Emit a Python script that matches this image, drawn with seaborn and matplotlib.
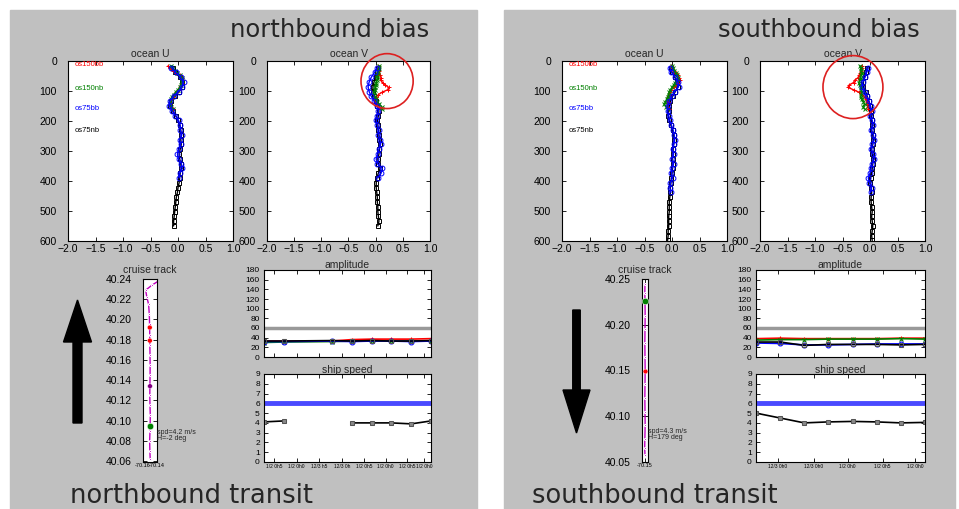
import matplotlib
matplotlib.use('Agg')
import matplotlib.pyplot as plt
from matplotlib import font_manager
from matplotlib.patches import Rectangle, Ellipse, FancyArrow
import pandas as pd
import seaborn as sns

# ---------------- data ----------------
instruments = ['os150bb', 'os150nb', 'os75bb', 'os75nb']
inst_colors = {'os150bb': '#ff0000', 'os150nb': '#008000', 'os75bb': '#0000ff', 'os75nb': '#000000'}
inst_markers = {'os150bb': '+', 'os150nb': 'x', 'os75bb': 'o', 'os75nb': 's'}

depth_150 = [16, 24, 32, 40, 48, 56, 64, 72, 80, 88, 96, 104, 112, 120, 128, 136, 144, 152, 160]
depth_75 = [22, 38, 54, 70, 86, 102, 118, 134, 150, 166, 182, 198, 214, 230, 246, 262, 278,
            294, 310, 326, 342, 358, 374, 390, 406, 422, 438, 454, 470, 486, 502, 518, 534,
            550, 566, 582, 598]

# northbound profiles
nb_u = {
    'os150bb': [-0.18, -0.15, -0.10, -0.04, 0.03, 0.07, 0.09, 0.08, 0.06, 0.04, 0.01, -0.03, -0.07,
                -0.10, -0.13, -0.14, -0.15, -0.12, -0.10],
    'os150nb': [-0.12, -0.10, -0.06, -0.01, 0.04, 0.07, 0.08, 0.07, 0.05, 0.03, 0.00, -0.04, -0.08,
                -0.11, -0.13, -0.15, -0.14, -0.12, -0.09],
    'os75bb': [-0.12, -0.04, 0.05, 0.10, 0.08, 0.01, -0.08, -0.15, -0.16, -0.11, -0.05, 0.01, 0.04,
               0.04, 0.07, 0.03, 0.05, 0.02, -0.01, 0.01, 0.06, 0.08, 0.03, 0.02],
    'os75nb': [-0.10, -0.05, 0.03, 0.08, 0.07, 0.02, -0.06, -0.12, -0.14, -0.10, -0.04, 0.00, 0.03,
               0.05, 0.06, 0.05, 0.06, 0.04, 0.02, 0.03, 0.05, 0.06, 0.04, 0.03, 0.02, 0.00, -0.01,
               -0.03, -0.04, -0.05, -0.06, -0.07, -0.08, -0.08],
}
nb_v = {
    'os150bb': [0.05, 0.04, 0.06, 0.05, 0.08, 0.10, 0.09, 0.13, 0.18, 0.24, 0.22, 0.12, 0.05, 0.01,
                -0.02, -0.01, 0.02, 0.06, 0.09],
    'os150nb': [0.07, 0.06, 0.05, 0.04, 0.03, 0.03, 0.02, 0.01, 0.00, -0.01, -0.02, -0.03, -0.03,
                -0.02, 0.00, 0.03, 0.07, 0.11, 0.12],
    'os75bb': [0.03, -0.02, -0.08, -0.12, -0.14, -0.12, -0.08, -0.03, 0.02, 0.05, 0.03, 0.01, 0.03,
               0.06, 0.05, 0.08, 0.09, 0.06, 0.04, 0.01, 0.03, 0.12, 0.10, 0.04],
    'os75nb': [0.05, 0.03, 0.00, -0.03, -0.05, -0.05, -0.03, 0.00, 0.03, 0.06, 0.05, 0.03, 0.04,
               0.05, 0.06, 0.07, 0.08, 0.07, 0.06, 0.04, 0.05, 0.08, 0.05, 0.02, 0.01, 0.01, 0.02,
               0.03, 0.03, 0.04, 0.04, 0.05, 0.06, 0.04],
}
# southbound profiles
sb_u = {
    'os150bb': [-0.02, 0.00, 0.03, 0.07, 0.10, 0.13, 0.14, 0.11, 0.07, 0.03, -0.01, -0.04, -0.06,
                -0.07, -0.07, -0.08, -0.08, -0.07, -0.06],
    'os150nb': [0.00, 0.01, 0.04, 0.07, 0.09, 0.10, 0.09, 0.06, 0.03, 0.00, -0.03, -0.05, -0.06,
                -0.08, -0.10, -0.12, -0.14, -0.11, -0.08],
    'os75bb': [-0.04, -0.01, 0.06, 0.11, 0.12, 0.05, 0.00, -0.05, -0.07, -0.08, -0.06, -0.04, -0.01,
               0.02, 0.04, 0.05, 0.03, 0.01, 0.03, 0.00, 0.03, 0.00, -0.01, 0.01, -0.03, -0.04, -0.02],
    'os75nb': [-0.02, 0.00, 0.05, 0.09, 0.10, 0.06, 0.01, -0.03, -0.05, -0.06, -0.07, -0.05, -0.02,
               0.01, 0.03, 0.04, 0.03, 0.02, 0.02, 0.01, 0.02, 0.01, 0.00, -0.01, -0.02, -0.03,
               -0.03, -0.04, -0.05, -0.05, -0.05, -0.06, -0.06, -0.06, -0.07, -0.07, -0.08],
}
sb_v = {
    'os150bb': [-0.15, -0.14, -0.16, -0.18, -0.20, -0.22, -0.28, -0.30, -0.38, -0.40, -0.30, -0.20,
                -0.14, -0.10, -0.08, -0.06, -0.05, -0.04, -0.03],
    'os150nb': [-0.18, -0.17, -0.16, -0.15, -0.16, -0.17, -0.19, -0.20, -0.19, -0.17, -0.16, -0.15,
                -0.16, -0.17, -0.15, -0.12, -0.10, -0.13, -0.10],
    'os75bb': [-0.03, -0.06, -0.09, -0.13, -0.14, -0.10, -0.06, -0.02, 0.01, 0.03, 0.00, 0.04, 0.06,
               0.02, 0.06, 0.08, 0.04, 0.02, 0.06, 0.08, 0.04, 0.02, 0.00, -0.03, -0.01, 0.03, 0.01],
    'os75nb': [-0.05, -0.07, -0.10, -0.12, -0.12, -0.08, -0.05, -0.02, 0.00, 0.02, 0.02, 0.03, 0.04,
               0.03, 0.05, 0.06, 0.05, 0.03, 0.04, 0.06, 0.05, 0.04, 0.03, 0.01, 0.00, 0.02, 0.03,
               0.02, 0.02, 0.03, 0.04, 0.03, 0.04, 0.05, 0.04, 0.03, 0.04],
}

# cruise tracks (lon, lat)
nb_track_lat = [40.062, 40.070, 40.080, 40.090, 40.095, 40.105, 40.115, 40.125, 40.135, 40.145,
                40.155, 40.165, 40.175, 40.185, 40.195, 40.205, 40.215, 40.222, 40.229, 40.234, 40.238]
nb_track_lon = [-70.1497, -70.1502, -70.1505, -70.1500, -70.1498, -70.1496, -70.1500, -70.1503,
                -70.1501, -70.1499, -70.1498, -70.1500, -70.1502, -70.1504, -70.1506, -70.1510,
                -70.1520, -70.1545, -70.1562, -70.1470, -70.1380]
nb_ens_lat = [40.192, 40.179, 40.134]
nb_ens_lon = [-70.1503, -70.1502, -70.1500]
nb_ens_col = ['#ff0000', '#ff0000', '#800080']
nb_now = (-70.1499, 40.095)

sb_track_lat = [40.245, 40.235, 40.225, 40.210, 40.195, 40.180, 40.165, 40.150, 40.135, 40.120,
                40.105, 40.090, 40.075, 40.065, 40.058]
sb_track_lon = [-70.1500, -70.1501, -70.1500, -70.1499, -70.1500, -70.1501, -70.1500, -70.1499,
                -70.1500, -70.1501, -70.1500, -70.1499, -70.1501, -70.1502, -70.1500]
sb_ens_lat = [40.150]
sb_ens_lon = [-70.1500]
sb_ens_col = ['#ff0000']
sb_now = (-70.1500, 40.226)

# amplitude and ship speed time series (minutes)
nb_time = [0, 7, 24, 31, 38, 45, 52, 59]
nb_amp = {
    'os150bb': [33, 33, 33, 36, 37, 37, 37, 38],
    'os150nb': [30, 31, 32, 33, 33, 33, 33, 33],
    'os75bb': [32, 32, 33, 32, 33, 33, 32, 33],
    'os75nb': [33, 33, 34, 33, 34, 33, 33, 34],
}
nb_spd_time = [0, 7, 31, 38, 45, 52, 59]
nb_spd_seg = [0, 0, 1, 1, 1, 1, 1]
nb_spd = [4.1, 4.2, 4.0, 4.0, 4.0, 3.9, 4.2]
nb_tick_t = [3.5, 11.5, 19.5, 27.5, 35.5, 43, 50.5, 56.5]
nb_tick_lab = ['1/2 0h5', '1/2 0h0', '12/3 h5', '12/3 0h', '1/2 0h5', '1/2 0h0', '1/2 0h5', '1/2 0h0']

sb_time = [0, 10, 20, 30, 40, 50, 60, 70]
sb_amp = {
    'os150bb': [38, 39, 38, 38, 38, 38, 39, 39],
    'os150nb': [35, 36, 36, 37, 37, 37, 38, 37],
    'os75bb': [29, 28, 25, 25, 26, 27, 27, 27],
    'os75nb': [31, 31, 24, 26, 26, 26, 25, 26],
}
sb_spd_time = [0, 10, 20, 30, 40, 50, 60, 70]
sb_spd_seg = [0, 0, 0, 0, 0, 0, 0, 0]
sb_spd = [5.0, 4.5, 4.0, 4.1, 4.15, 4.1, 4.0, 4.05]
sb_tick_t = [9, 24, 38, 52.5, 66]
sb_tick_lab = ['12/3 0h0', '12/3 0h0', '1/2 0h0', '1/2 0h5', '1/2 0h0']

amp_ref = 60
spd_ref = 6

# ---------------- style ----------------
sns.set_theme(style='ticks')
names = {f.name for f in font_manager.fontManager.ttflist}
small_font = 'Liberation Sans Narrow' if 'Liberation Sans Narrow' in names else 'Liberation Sans'
plt.rcParams['font.family'] = [small_font, 'DejaVu Sans']
plt.rcParams['axes.unicode_minus'] = True

W, H = 959, 509
fig = plt.figure(figsize=(W / 100, H / 100), dpi=100)
fig.patch.set_facecolor('white')


def box(l, t, r, b):
    return [l / W, 1 - b / H, (r - l) / W, (b - t) / H]


def style(ax, size=7.5, ypad=8, xpad=2):
    ax.set_facecolor('white')
    ax.tick_params(labelsize=size, length=3, width=0.6, direction='in', top=True, right=True,
                   colors='black')
    ax.tick_params(axis='y', pad=ypad)
    ax.tick_params(axis='x', pad=xpad)
    for s in ax.spines.values():
        s.set_visible(True)
        s.set_linewidth(0.8)
        s.set_color('black')
    ax.set_xlabel('')
    ax.set_ylabel('')


# background slide
bg = fig.add_axes([0, 0, 1, 1], zorder=-5)
bg.set_xlim(0, W)
bg.set_ylim(H, 0)
bg.axis('off')
bg.add_patch(Rectangle((10, 10), 467, 499, color='#c0c0c0'))
bg.add_patch(Rectangle((504, 10), 451, 499, color='#c0c0c0'))
bg.add_patch(FancyArrow(77.5, 423, 0, -123, width=9, head_width=28, head_length=42,
                        length_includes_head=True, color='black'))
bg.add_patch(FancyArrow(576.5, 310, 0, 123, width=7.5, head_width=27, head_length=43,
                        length_includes_head=True, color='black'))
slide_txt = dict(family='DejaVu Sans', color='#262626', va='baseline', ha='left')
bg.text(230, 37, 'northbound bias', fontsize=17.5, **slide_txt)
bg.text(718, 37, 'southbound bias', fontsize=17.5, **slide_txt)
bg.text(70, 503, 'northbound transit', fontsize=18.5, **slide_txt)
bg.text(532, 503, 'southbound transit', fontsize=18.5, **slide_txt)


def profile(ax, vals, title, legend=False, circle=None):
    for name in ['os75nb', 'os150bb', 'os150nb', 'os75bb']:
        v = vals[name]
        d = depth_150 if name.startswith('os150') else depth_75[:len(v)]
        sns.lineplot(x=v, y=d, sort=False, estimator=None, color=inst_colors[name],
                     marker=inst_markers[name], markersize=3.5, markerfacecolor='none',
                     markeredgecolor=inst_colors[name], markeredgewidth=0.7, lw=1.0, ax=ax)
    ax.set_xlim(-2, 1)
    ax.set_ylim(600, 0)
    ax.set_xticks([-2, -1.5, -1, -0.5, 0, 0.5, 1])
    ax.set_xticklabels(['−2.0', '−1.5', '−1.0', '−0.5', '0.0', '0.5', '1.0'])
    ax.set_yticks([0, 100, 200, 300, 400, 500, 600])
    style(ax)
    ax.set_title(title, fontsize=7.5, pad=3)
    if legend:
        for name, dy in zip(instruments, [13, 90, 157, 233]):
            ax.text(-1.88, dy, name, color=inst_colors[name], fontsize=5.5, va='center')
    if circle is not None:
        ax.add_patch(Ellipse(circle[:2], circle[2], circle[3], fill=False, ec='#dd2020',
                             lw=1.2, clip_on=False, zorder=5))


def track(ax, lon, lat, ens_lon, ens_lat, ens_col, now, ylim, yticks, xlim, xticks, txt, txt_y):
    sns.lineplot(x=lon, y=lat, sort=False, estimator=None, color='#c000c0', marker='.',
                 markersize=3, lw=1.0, ax=ax)
    sns.scatterplot(x=ens_lon, y=ens_lat, c=ens_col, marker='o', s=12, ax=ax, zorder=3)
    sns.scatterplot(x=[now[0]], y=[now[1]], color='#008000', s=22, ax=ax, zorder=4)
    ax.set_ylim(*ylim)
    ax.set_xlim(*xlim)
    ax.set_yticks(yticks)
    ax.set_yticklabels(['%.2f' % t for t in yticks])
    ax.set_xticks(xticks)
    ax.set_xticklabels(['%.2f' % t for t in xticks])
    style(ax, ypad=8, xpad=1)
    ax.tick_params(axis='x', labelsize=4)
    ax.set_title('cruise track', fontsize=7.5, pad=4)
    ax.text(1.0, txt_y, txt, transform=ax.get_yaxis_transform(), fontsize=5, va='center',
            ha='left', linespacing=0.9)


def amplitude(ax, t, amp, ticks):
    for name in instruments:
        sns.lineplot(x=t, y=amp[name], estimator=None, color=inst_colors[name],
                     marker=inst_markers[name], markersize=3.5, markerfacecolor='none',
                     markeredgecolor='#555555' if name == 'os75nb' else inst_colors[name],
                     markeredgewidth=0.8, lw=1.2, ax=ax)
    ax.axhline(amp_ref, color='#999999', lw=2.5, zorder=1)
    ax.set_ylim(0, 180)
    ax.set_xlim(t[0], t[-1])
    ax.set_yticks(range(0, 181, 20))
    ax.set_xticks(ticks)
    ax.set_xticklabels([])
    style(ax, size=6, ypad=3)
    ax.set_title('amplitude', fontsize=7.5, pad=1)


def speed(ax, t, seg, spd, tmax, ticks, labels):
    df = pd.DataFrame({'t': t, 'spd': spd, 'seg': seg})
    sns.lineplot(data=df, x='t', y='spd', units='seg', estimator=None, color='#000000', marker='s',
                 markersize=3.5, markerfacecolor='#888888', markeredgecolor='#555555',
                 lw=1.2, ax=ax)
    ax.axhline(spd_ref, color='#4a4aff', lw=3.5, zorder=1)
    ax.set_ylim(0, 9)
    ax.set_xlim(0, tmax)
    ax.set_yticks(range(0, 10))
    ax.set_xticks(ticks)
    ax.set_xticklabels(labels)
    style(ax, size=6, ypad=3, xpad=1.5)
    ax.tick_params(axis='x', labelsize=3.5)
    ax.set_title('ship speed', fontsize=7.5, pad=1)


# northbound
profile(fig.add_axes(box(68, 61, 233, 241)), nb_u, 'ocean U', legend=True)
profile(fig.add_axes(box(267, 61, 430, 241)), nb_v, 'ocean V', circle=(0.21, 67, 0.96, 183))
track(fig.add_axes(box(143, 279, 157, 462)), nb_track_lon, nb_track_lat, nb_ens_lon, nb_ens_lat,
      nb_ens_col, nb_now, (40.059, 40.24), [40.06 + 0.02 * i for i in range(10)],
      (-70.16, -70.14), [-70.16, -70.14],
      'spd=4.2 m/s\nH=-2 deg', 40.085)
amplitude(fig.add_axes(box(264, 270, 431, 357)), nb_time, nb_amp, nb_tick_t)
speed(fig.add_axes(box(264, 374, 431, 462)), nb_spd_time, nb_spd_seg, nb_spd, 59,
      nb_tick_t, nb_tick_lab)

# southbound
profile(fig.add_axes(box(562, 61, 727, 241)), sb_u, 'ocean U', legend=True)
profile(fig.add_axes(box(760, 61, 925, 241)), sb_v, 'ocean V', circle=(-0.31, 87, 1.09, 210))
track(fig.add_axes(box(642, 279, 648, 462)), sb_track_lon, sb_track_lat, sb_ens_lon, sb_ens_lat,
      sb_ens_col, sb_now, (40.05, 40.25), [40.05, 40.10, 40.15, 40.20, 40.25],
      (-70.152, -70.148), [-70.15],
      'spd=4.3 m/s\nH=179 deg', 40.08)
amplitude(fig.add_axes(box(756, 270, 925, 357)), sb_time, sb_amp, sb_tick_t)
speed(fig.add_axes(box(756, 374, 925, 462)), sb_spd_time, sb_spd_seg, sb_spd, 70,
      sb_tick_t, sb_tick_lab)

fig.savefig('out.png', dpi=100, facecolor='white')
